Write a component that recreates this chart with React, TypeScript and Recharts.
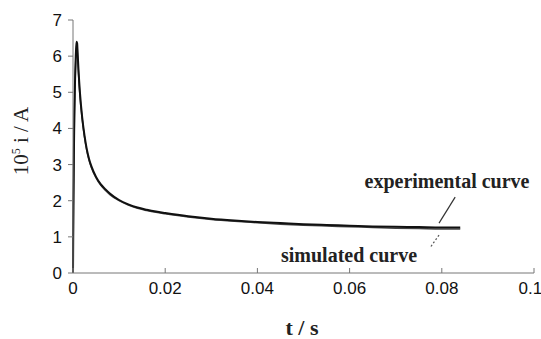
import React from "react";
import { LineChart, Line, XAxis, YAxis, ReferenceLine } from "recharts";

// time (s)
const tValues = [
  0, 0.00005, 0.0001, 0.0002, 0.0003, 0.0004, 0.0005, 0.0006, 0.0007, 0.0008, 0.0009, 0.001, 0.0012,
  0.0015, 0.002, 0.0025, 0.003, 0.0035, 0.004, 0.005, 0.006, 0.007, 0.008, 0.01, 0.012, 0.014, 0.016, 0.018,
  0.02, 0.025, 0.03, 0.035, 0.04, 0.045, 0.05, 0.055, 0.06, 0.065, 0.07, 0.075, 0.08, 0.084,
];
// 10^5 i / A
const experimental = [
  0, 1.0, 2.0, 3.4, 4.4, 5.1, 5.6, 6.0, 6.25, 6.4, 6.35, 6.1, 5.6,
  5.0, 4.3, 3.8, 3.42, 3.15, 2.95, 2.66, 2.46, 2.32, 2.2, 2.02, 1.9, 1.81, 1.75, 1.7,
  1.66, 1.57, 1.5, 1.45, 1.41, 1.38, 1.35, 1.33, 1.31, 1.29, 1.28, 1.27, 1.26, 1.26,
];
const simulated = [
  0, 0.9, 1.8, 3.2, 4.3, 5.0, 5.5, 5.9, 6.15, 6.3, 6.25, 6.0, 5.5,
  4.9, 4.25, 3.75, 3.38, 3.11, 2.91, 2.63, 2.43, 2.29, 2.17, 2.0, 1.88, 1.79, 1.73, 1.68,
  1.64, 1.55, 1.48, 1.43, 1.39, 1.35, 1.32, 1.3, 1.28, 1.26, 1.24, 1.23, 1.22, 1.22,
];
const xTicks = [0, 0.02, 0.04, 0.06, 0.08, 0.1];
const yTicks = [0, 1, 2, 3, 4, 5, 6, 7];

// leader lines for the annotations (data coordinates)
const expLeader = [
  { x: 0.0829, y: 2.1 },
  { x: 0.0794, y: 1.38 },
];
const simLeader = [
  { x: 0.0794, y: 1.05 },
  { x: 0.0774, y: 0.69 },
];

const data = tValues.map((t, i) => ({ t, exp: experimental[i], sim: simulated[i] }));

const tickStyle = { fontFamily: "Liberation Sans, Arial, sans-serif", fontSize: 17, fill: "#111" };
const serif = "Liberation Serif, Times New Roman, serif";

export default function App() {
  return (
    <div style={{ position: "absolute", left: 0, top: 0, width: 541, height: 339, background: "#fff" }}>
      <LineChart width={541} height={339} data={data} margin={{ top: 20, right: 7, bottom: 0, left: 0 }}>
        <XAxis
          dataKey="t"
          type="number"
          domain={[0, 0.1]}
          ticks={xTicks}
          height={66}
          tickSize={-5}
          tickMargin={14}
          tick={tickStyle}
          stroke="#777"
          tickLine={{ stroke: "#777" }}
        />
        <YAxis
          type="number"
          domain={[0, 7]}
          ticks={yTicks}
          width={73}
          tickSize={5}
          tickMargin={6}
          tick={tickStyle}
          stroke="#777"
          tickLine={{ stroke: "#777" }}
        />
        <Line dataKey="sim" type="monotone" stroke="#444" strokeWidth={1.5} dot={false} isAnimationActive={false} />
        <Line dataKey="exp" type="monotone" stroke="#111" strokeWidth={2} dot={false} isAnimationActive={false} />
        <ReferenceLine segment={expLeader} stroke="#333" strokeWidth={1.2} ifOverflow="visible" />
        <ReferenceLine segment={simLeader} stroke="#555" strokeWidth={1.2} strokeDasharray="2 2" ifOverflow="visible" />
      </LineChart>
      <svg width={541} height={339} style={{ position: "absolute", left: 0, top: 0, pointerEvents: "none" }}>
        <text
          transform="translate(28,141) rotate(-90)"
          textAnchor="middle"
          fontFamily={serif}
          fontSize={21}
          fill="#222"
        >
          10<tspan dy={-8} fontSize={12}>5</tspan>
          <tspan dy={8}> i / A</tspan>
        </text>
        <text x={302} y={335} textAnchor="middle" fontFamily={serif} fontSize={22} fontWeight="bold" fill="#222">
          t / s
        </text>
        <text x={447} y={188} textAnchor="middle" fontFamily={serif} fontSize={20} fontWeight="bold" fill="#222">
          experimental curve
        </text>
        <text x={349} y={262} textAnchor="middle" fontFamily={serif} fontSize={20} fontWeight="bold" fill="#222">
          simulated curve
        </text>
      </svg>
    </div>
  );
}
